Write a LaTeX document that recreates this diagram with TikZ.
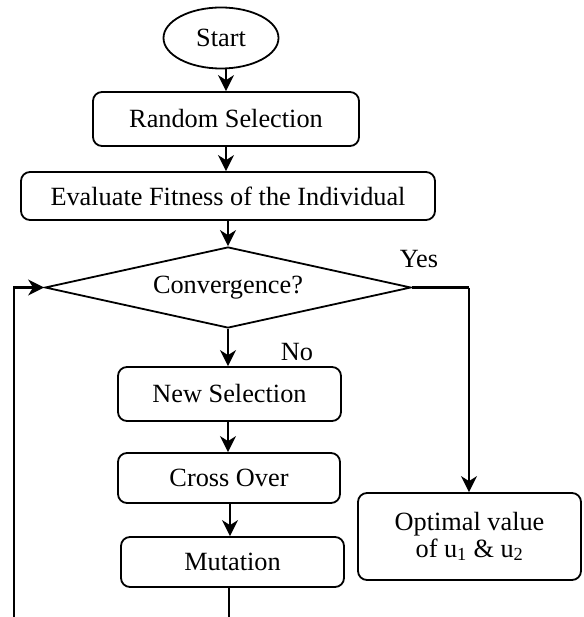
\documentclass[tikz,border=0pt]{standalone}
\usepackage{fontspec}
\setmainfont{Liberation Serif}
\usetikzlibrary{shapes.geometric,arrows.meta}
\begin{document}
\begin{tikzpicture}[x=1pt,y=-1pt,
  every node/.style={font=\fontsize{26.3}{30}\selectfont},
  box/.style={draw, line width=1.8pt, rounded corners=9pt, inner sep=0pt},
  arr/.style={line width=2.1pt, -{Stealth[length=16pt,width=16pt,inset=5pt]}},
  ln/.style={line width=2.1pt}]
\useasboundingbox (0,0) rectangle (583,617);
\node[draw, ellipse, line width=1.8pt, minimum width=115pt, minimum height=61pt, inner sep=0pt] (start) at (221,38) {Start};
\node[box, minimum width=266pt, minimum height=54pt] (rs) at (226,119) {Random Selection};
\node[box, minimum width=414pt, minimum height=48pt] (ev) at (228,196) {Evaluate Fitness of the Individual};
\node[draw, diamond, line width=1.8pt, aspect=4.5, inner sep=0pt, minimum width=366pt, minimum height=81pt] (cv) at (228,287.5) {Convergence?};
\node[box, minimum width=223pt, minimum height=54pt] (ns) at (229.5,394) {New Selection};
\node[box, minimum width=222pt, minimum height=50pt] (co) at (229,478) {Cross Over};
\node[box, minimum width=223pt, minimum height=50pt] (mu) at (232.5,562) {Mutation};
\node[box, minimum width=223pt, minimum height=87pt, align=center] (op) at (469.5,536.5) {Optimal value\\[-3pt]of u\textsubscript{1} \& u\textsubscript{2}};
\node (yes) at (419,259) {Yes};
\node (no) at (297,352) {No};
\coordinate (yc) at (469,287.5);
\coordinate (lt) at (14,287.5);
\coordinate (lb) at (14,617);
\coordinate (mb) at (229,617);
\coordinate (a1) at (226,0);
\coordinate (a3) at (228,0);
\coordinate (a5) at (230,0);
\draw[arr] (start.south -| a1) -- (rs.north -| a1);
\draw[arr] (rs.south -| a1) -- (ev.north -| a1);
\draw[arr] (ev.south -| a3) -- (cv.north);
\draw[arr] (cv.south) -- (ns.north -| cv.south);
\draw[arr] (ns.south -| a3) -- (co.north -| a3);
\draw[arr] (co.south -| a5) -- (mu.north -| a5);
\draw[ln] (mu.south -| mb) -- (mb);
\draw[arr] (lb) -- (lt) -- (cv.west);
\draw[ln] (cv.east) -- (yc);
\draw[arr] (yc) -- (op.north -| yc);
\end{tikzpicture}
\end{document}
